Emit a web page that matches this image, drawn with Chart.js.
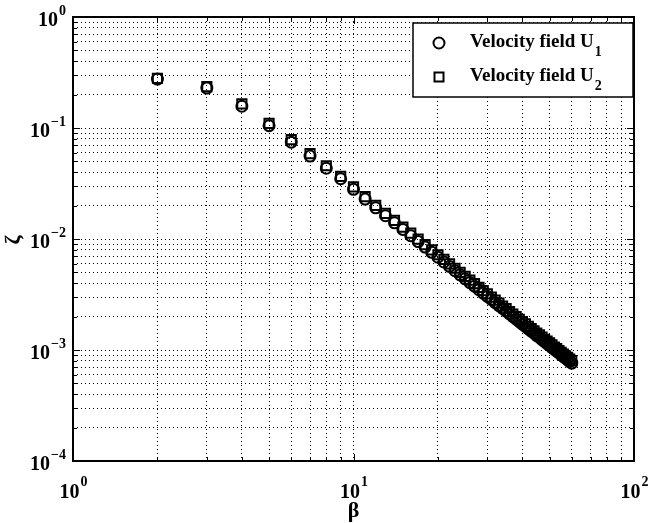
<!DOCTYPE html>
<html>
<head>
<meta charset="utf-8">
<script src="https://cdn.jsdelivr.net/npm/chart.js@4/dist/chart.umd.min.js"></script>
<style>
  html, body { margin: 0; padding: 0; background: #fff; }
  #wrap { width: 649px; height: 523px; }
</style>
</head>
<body>
<div id="wrap"><canvas id="chart" width="649" height="523"></canvas></div>
<script>
"use strict";

// beta values (x) and zeta for both velocity fields
const beta = [2, 3, 4, 5, 6, 7, 8, 9, 10, 11, 12, 13, 14, 15, 16, 17, 18, 19, 20,
    21, 22, 23, 24, 25, 26, 27, 28, 29, 30, 31, 32, 33, 34, 35, 36, 37, 38, 39, 40,
    41, 42, 43, 44, 45, 46, 47, 48, 49, 50, 51, 52, 53, 54, 55, 56, 57, 58, 59, 60];

const zetaU1 = [0.276, 0.229, 0.157, 0.105, 0.0745, 0.0558, 0.0434, 0.0349, 0.0280,
    0.0229, 0.0191, 0.0162, 0.0140, 0.0122, 0.0107, 0.00948, 0.00846, 0.00759, 0.00685,
    0.00621, 0.00566, 0.00518, 0.00476, 0.00438, 0.00405, 0.00376, 0.00349, 0.00326, 0.00304,
    0.00285, 0.00267, 0.00251, 0.00237, 0.00224, 0.00211, 0.00200, 0.00190, 0.00180, 0.00171,
    0.00163, 0.00155, 0.00148, 0.00142, 0.00135, 0.00130, 0.00124, 0.00119, 0.00114, 0.00110,
    0.00105, 0.00101, 0.000975, 0.000940, 0.000905, 0.000873, 0.000843, 0.000814, 0.000787, 0.000761];

const zetaU2 = [0.280, 0.236, 0.165, 0.110, 0.0785, 0.0588, 0.0457, 0.0367, 0.0295,
    0.0241, 0.0201, 0.0170, 0.0147, 0.0128, 0.0113, 0.00997, 0.00890, 0.00799, 0.00721,
    0.00654, 0.00596, 0.00545, 0.00501, 0.00461, 0.00426, 0.00396, 0.00367, 0.00343, 0.00320,
    0.00300, 0.00281, 0.00264, 0.00249, 0.00236, 0.00222, 0.00211, 0.00200, 0.00189, 0.00180,
    0.00172, 0.00163, 0.00156, 0.00149, 0.00142, 0.00137, 0.00131, 0.00125, 0.00120, 0.00116,
    0.00111, 0.00106, 0.00103, 0.000989, 0.000953, 0.000919, 0.000887, 0.000857, 0.000828, 0.000801];

// decade exponents used for the tick labels
const xDecades = [0, 1, 2];
const yDecades = [-4, -3, -2, -1, 0];
const seriesNames = ["Velocity field U", "Velocity field U"];
const seriesSubs = ["1", "2"];

const FONT = "'Liberation Serif', 'DejaVu Serif', serif";

// every 1..9 x 10^k between the decades
function logTicks(decades) {
    let out = [];
    for (let i = 0; i < decades.length - 1; i++) {
        for (let m = 1; m < 10; m++) out.push({ value: m * Math.pow(10, decades[i]) });
    }
    out.push({ value: Math.pow(10, decades[decades.length - 1]) });
    return out;
}

function toPoints(xs, ys) {
    let pts = [];
    for (let i = 0; i < xs.length; i++) pts.push({ x: xs[i], y: ys[i] });
    return pts;
}

// frame, inward ticks, tick labels, axis titles and legend
const matlabAxes = {
    id: "matlabAxes",
    afterDraw(chart) {
        const ctx = chart.ctx;
        const a = chart.chartArea;
        const xs = chart.scales.x, ys = chart.scales.y;
        ctx.save();
        ctx.strokeStyle = "#000";

        // inward tick marks on all four sides
        ctx.lineWidth = 1;
        ctx.beginPath();
        xs.ticks.forEach(t => {
            const px = Math.round(xs.getPixelForValue(t.value)) + 0.5;
            const len = Math.abs(Math.log10(t.value) % 1) < 1e-9 ? 7 : 4;
            ctx.moveTo(px, a.bottom); ctx.lineTo(px, a.bottom - len);
            ctx.moveTo(px, a.top); ctx.lineTo(px, a.top + len);
        });
        ys.ticks.forEach(t => {
            const py = Math.round(ys.getPixelForValue(t.value)) + 0.5;
            const len = Math.abs(Math.log10(t.value) % 1) < 1e-9 ? 7 : 4;
            ctx.moveTo(a.left, py); ctx.lineTo(a.left + len, py);
            ctx.moveTo(a.right, py); ctx.lineTo(a.right - len, py);
        });
        ctx.stroke();

        // box
        ctx.lineWidth = 2;
        ctx.strokeRect(a.left, a.top, a.right - a.left, a.bottom - a.top);

        // tick labels: 10 with a raised exponent
        ctx.fillStyle = "#000";
        ctx.textBaseline = "alphabetic";
        const big = "bold 20px " + FONT, small = "bold 14px " + FONT;
        xDecades.forEach(k => {
            const px = xs.getPixelForValue(Math.pow(10, k));
            ctx.font = big; const w1 = ctx.measureText("10").width;
            ctx.font = small; const w2 = ctx.measureText(String(k)).width;
            const x0 = px - (w1 + w2) / 2;
            ctx.textAlign = "left";
            ctx.font = big; ctx.fillText("10", x0, a.bottom + 37);
            ctx.font = small; ctx.fillText(String(k), x0 + w1 + 1, a.bottom + 25);
        });
        yDecades.forEach(k => {
            const py = ys.getPixelForValue(Math.pow(10, k));
            const exp = k < 0 ? "\u2212" + Math.abs(k) : String(k);
            ctx.font = small; const w2 = ctx.measureText(exp).width;
            const right = a.left - 7;
            ctx.textAlign = "right";
            ctx.fillText(exp, right, py - 2);
            ctx.font = big; ctx.fillText("10", right - w2 - 1, py + 9);
        });

        // axis titles
        ctx.font = "bold 22px " + FONT;
        ctx.textAlign = "center";
        ctx.textBaseline = "middle";
        ctx.fillText("\u03b2", (a.left + a.right) / 2, a.bottom + 50);
        ctx.save();
        ctx.translate(14, 240);
        ctx.rotate(-Math.PI / 2);
        ctx.fillText("\u03b6", 0, 0);
        ctx.restore();

        // legend box
        const lx = 413, ly = 23, lw = 220, lh = 74;
        ctx.fillStyle = "#fff";
        ctx.fillRect(lx, ly, lw, lh);
        ctx.lineWidth = 1.5;
        ctx.strokeRect(lx, ly, lw, lh);
        ctx.fillStyle = "#000";
        const rows = [43, 77];
        chart.data.datasets.forEach((ds, i) => {
            ctx.lineWidth = 2;
            ctx.beginPath();
            if (ds.pointStyle === "rect") {
                ctx.rect(439 - 4.5, rows[i] - 4.5, 9, 9);
            } else {
                ctx.arc(439, rows[i], 5.5, 0, Math.PI * 2);
            }
            ctx.stroke();
            ctx.textAlign = "left";
            ctx.textBaseline = "alphabetic";
            ctx.font = "bold 19px " + FONT;
            ctx.fillText(seriesNames[i], 470, rows[i] + 4);
            const w = ctx.measureText(seriesNames[i]).width;
            ctx.font = "bold 14px " + FONT;
            ctx.fillText(seriesSubs[i], 470 + w + 1, rows[i] + 13);
        });
        ctx.restore();
    }
};

const ctx = document.getElementById("chart").getContext("2d");
const chart = new Chart(ctx, {
    type: "scatter",
    data: {
        datasets: [{
            label: "Velocity field U1",
            data: toPoints(beta, zetaU1),
            pointStyle: "circle",
            pointRadius: 5.5,
            pointBorderWidth: 2,
            borderColor: "#000",
            backgroundColor: "rgba(0,0,0,0)"
        }, {
            label: "Velocity field U2",
            data: toPoints(beta, zetaU2),
            pointStyle: "rect",
            pointRadius: 6.5,
            pointBorderWidth: 2,
            borderColor: "#000",
            backgroundColor: "rgba(0,0,0,0)"
        }]
    },
    options: {
        responsive: false,
        animation: false,
        events: [],
        layout: { padding: { top: 17, right: 15, left: 0, bottom: 0 } },
        plugins: { legend: { display: false }, tooltip: { enabled: false } },
        scales: {
            x: {
                type: "logarithmic",
                min: 1,
                max: 100,
                afterBuildTicks: (s) => { s.ticks = logTicks(xDecades); },
                afterFit: (s) => { s.height = 62; },
                ticks: { display: false },
                grid: { color: "#000", lineWidth: 1, drawTicks: false },
                border: { display: false, dash: [1, 3] }
            },
            y: {
                type: "logarithmic",
                min: 1e-4,
                max: 1,
                afterBuildTicks: (s) => { s.ticks = logTicks(yDecades); },
                afterFit: (s) => { s.width = 73; },
                ticks: { display: false },
                grid: { color: "#000", lineWidth: 1, drawTicks: false },
                border: { display: false, dash: [1, 3] }
            }
        }
    },
    plugins: [matlabAxes]
});
</script>
</body>
</html>
